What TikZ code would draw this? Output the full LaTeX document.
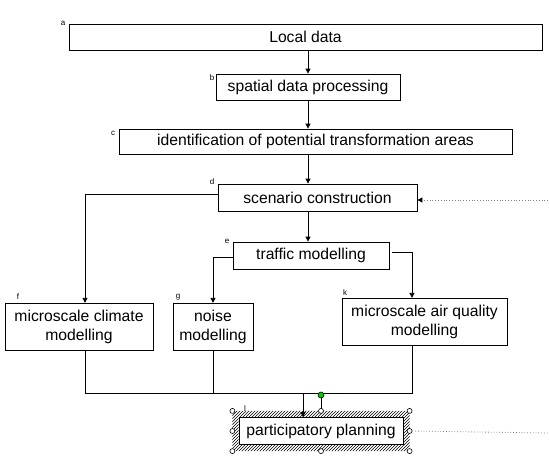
\documentclass[tikz,border=0pt]{standalone}
\usepackage{fontspec}
\setmainfont{Liberation Sans}
\usetikzlibrary{arrows.meta,patterns,fit}

\begin{document}
\begin{tikzpicture}[x=1pt,y=-1pt,
    box/.style={draw,line width=0.8pt,inner sep=0pt,align=center,font=\fontsize{15.7}{19}\selectfont},
    lbl/.style={inner sep=0pt,font=\fontsize{8}{9}\selectfont},
    flow/.style={line width=0.8pt,-{Triangle[length=5pt,width=5pt]}},
    link/.style={line width=0.8pt},
    feed/.style={gray,dotted,line width=0.8pt}]
            \useasboundingbox (0,0) rectangle (549,459);
            % boxes
            \node[box,minimum width=473pt,minimum height=26pt] (local) at (305.5,37) {Local data};
            \node[box,minimum width=184pt,minimum height=26pt] (spatial) at (308,87) {spatial data processing};
            \node[box,minimum width=393pt,minimum height=25pt] (areas) at (315.5,141.5) {identification of potential transformation areas};
            \node[box,minimum width=199pt,minimum height=27pt] (scenario) at (317.5,197.5) {scenario construction};
            \node[box,minimum width=156pt,minimum height=27pt] (traffic) at (311,255.5) {traffic modelling};
            \node[box,minimum width=148pt,minimum height=47.5pt] (climate) at (79,327) {microscale climate\\modelling};
            \node[box,minimum width=80pt,minimum height=47.5pt] (noise) at (213,327) {noise\\modelling};
            \node[box,minimum width=165pt,minimum height=47.5pt] (air) at (424.5,322) {microscale air quality\\modelling};
            \node[box,minimum width=164pt,minimum height=27pt] (plan) at (321,431) {participatory planning};
            % small letters
            \node[lbl] (la) at (63,23) {a};
            \node[lbl] (lb) at (212,78) {b};
            \node[lbl] (lc) at (113,133) {c};
            \node[lbl] (ld) at (212,182) {d};
            \node[lbl] (le) at (227,241) {e};
            \node[lbl] (lf) at (18,297) {f};
            \node[lbl] (lg) at (178,297) {g};
            \node[lbl] (lk) at (345,293) {k};
            \node[lbl] (ll) at (245,409) {l};
            % flow
            \draw[flow] (local.south -| spatial) -- (spatial.north);
            \draw[flow] (spatial.south) -- (areas.north -| spatial.south);
            \draw[flow] (areas.south -| spatial.south) -- (scenario.north -| spatial.south);
            \draw[flow] (scenario.south -| spatial.south) -- (traffic.north -| spatial.south);
            \draw[flow] ([yshift=3pt]scenario.west) -| ([xshift=6pt]climate.north);
            \draw[flow] ([yshift=-2pt]traffic.west) -| (noise.north);
            \draw[flow] ([xshift=3pt,yshift=3.5pt]traffic.east) -| ([xshift=-12.5pt]air.north);
            % joining line
            \coordinate (bus) at (0,393);
            \coordinate (airx) at ([xshift=-12.5pt]air.south);
            \coordinate (planin) at ([xshift=-18pt]plan.north);
            \draw[link] ([xshift=6pt]climate.south) |- (bus -| airx) -- (airx);
            \draw[link] (noise.south) -- (bus -| noise.south);
            \draw[flow] (bus -| planin) -- (planin);
            % selection frame
            \node[fit=(plan),inner sep=6pt] (sel) {};
            \fill[pattern=north east lines,even odd rule] (sel.north west) rectangle (sel.south east) (plan.north west) rectangle (plan.south east);
            \coordinate (rot) at (321,395);
            \draw[line width=0.6pt] (rot) -- (sel.north);
            \draw[fill=green!80!black,line width=0.6pt] (rot) circle (3pt);
            \foreach \p in {north west,north,north east,east,south east,south,south west,west}
                \draw[fill=white,line width=0.6pt] (sel.\p) circle (2.5pt);
            % feedback
            \coordinate (fbin) at (548,200);
            \coordinate (fbout) at (548,433);
            \draw[feed,-{Triangle[length=5pt,width=5pt,black]}] (fbin) -- (scenario.east |- fbin);
            \draw[feed] (sel.east) -- (fbout);
        \end{tikzpicture}
\end{document}
